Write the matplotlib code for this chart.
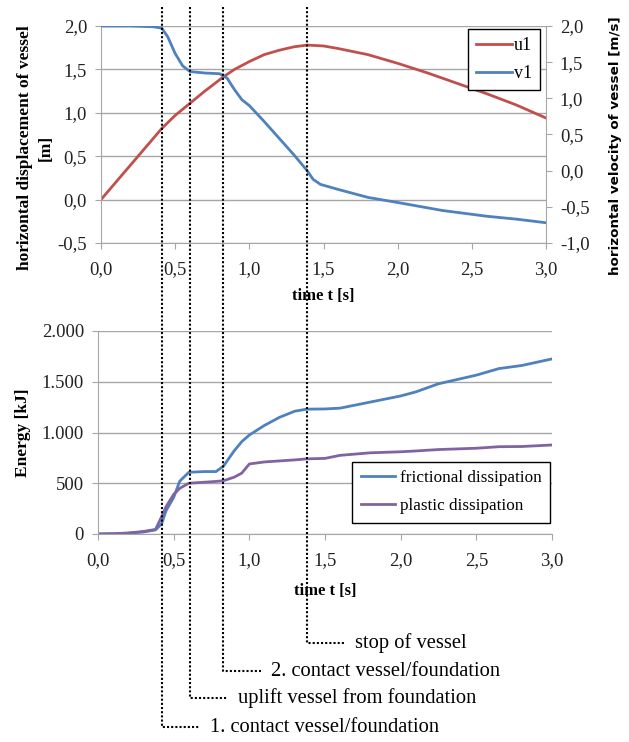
import matplotlib

matplotlib.use("Agg")
import matplotlib.pyplot as plt
from matplotlib.ticker import FuncFormatter, MultipleLocator

# --- data ------------------------------------------------------------------
t_u = [0.0, 0.1, 0.2, 0.3, 0.41, 0.5, 0.6, 0.7, 0.83, 0.9, 1.0, 1.1, 1.2, 1.3,
       1.39, 1.5, 1.6, 1.8, 2.0, 2.2, 2.4, 2.6, 2.8, 3.0]
u1 = [0.0, 0.2, 0.4, 0.6, 0.82, 0.97, 1.11, 1.25, 1.42, 1.50, 1.59, 1.67, 1.72,
      1.76, 1.78, 1.77, 1.74, 1.67, 1.57, 1.46, 1.34, 1.22, 1.09, 0.94]

t_v = [0.0, 0.2, 0.35, 0.41, 0.45, 0.5, 0.55, 0.6, 0.7, 0.8, 0.85, 0.9, 0.95,
       1.0, 1.1, 1.2, 1.3, 1.39, 1.43, 1.48, 1.6, 1.8, 2.0, 2.3, 2.6, 2.8, 3.0]
v1 = [2.0, 2.0, 1.99, 1.97, 1.85, 1.62, 1.45, 1.37, 1.35, 1.34, 1.28, 1.12,
      0.98, 0.90, 0.68, 0.45, 0.22, 0.0, -0.12, -0.19, -0.26, -0.37, -0.44,
      -0.55, -0.63, -0.67, -0.72]

t_e = [0.0, 0.1, 0.2, 0.3, 0.38, 0.42, 0.45, 0.5, 0.54, 0.6, 0.7, 0.78, 0.83,
       0.9, 0.95, 1.0, 1.1, 1.2, 1.3, 1.38, 1.5, 1.6, 1.8, 2.0, 2.1, 2.25, 2.5,
       2.65, 2.8, 3.0]
frictional = [0, 2, 8, 20, 40, 100, 230, 360, 520, 608, 615, 615, 670, 820,
              910, 975, 1070, 1150, 1210, 1230, 1232, 1240, 1300, 1360, 1400,
              1480, 1565, 1630, 1660, 1725]
plastic = [0, 3, 10, 25, 45, 170, 270, 390, 450, 500, 510, 518, 525, 560, 600,
           690, 710, 720, 730, 740, 745, 775, 800, 810, 818, 832, 845, 860,
           862, 877]

event_t = [0.413, 0.60, 0.825, 1.39]
event_labels = ["1. contact vessel/foundation", "uplift vessel from foundation",
                "2. contact vessel/foundation", "stop of vessel"]

RED = "#C0504D"
BLUE = "#4F81BD"
PURPLE = "#8064A2"
GRID = "#A6A6A6"
SERIF = "Liberation Serif"
TICK_FS = 13.5

plt.rcParams["font.family"] = SERIF
plt.rcParams["font.size"] = 12


def comma(fmt):
    return FuncFormatter(lambda v, p: fmt.format(v).replace(".", ","))


def style(ax, spines=("left", "bottom")):
    for s in ax.spines:
        ax.spines[s].set_visible(s in spines)
        ax.spines[s].set_color(GRID)
    ax.tick_params(direction="out", length=4, color=GRID, labelsize=TICK_FS,
                   pad=6, labelcolor="#222222")


fig = plt.figure(figsize=(6.29, 7.42), dpi=100)
W, H = 629, 742

# --- top panel --------------------------------------------------------------
ax1 = fig.add_axes([101 / W, 1 - 243 / H, 445 / W, 217 / H])
ax2 = ax1.twinx()
l1, = ax1.plot(t_u, u1, color=RED, lw=2, label="u1")
l2, = ax2.plot(t_v, v1, color=BLUE, lw=2, label="v1")
ax1.set_xlim(0, 3)
ax1.set_ylim(-0.5, 2.0)
ax2.set_ylim(-1.0, 2.0)
ax1.xaxis.set_major_locator(MultipleLocator(0.5))
ax1.yaxis.set_major_locator(MultipleLocator(0.5))
ax2.yaxis.set_major_locator(MultipleLocator(0.5))
ax1.xaxis.set_major_formatter(comma("{:.1f}"))
ax1.yaxis.set_major_formatter(comma("{:.1f}"))
ax2.yaxis.set_major_formatter(comma("{:.1f}"))
ax1.grid(axis="y", color=GRID, lw=1)
style(ax1)
style(ax2, spines=("right",))
ax1.tick_params(axis="x", pad=9)
ax1.set_axisbelow(True)
ax1.set_xlabel("time t [s]", fontweight="bold", fontsize=12, labelpad=7)
ax1.set_ylabel("horizontal displacement of vessel\n[m]", fontweight="bold",
               fontsize=12.5, linespacing=1.35, labelpad=3)
ax1.yaxis.label.set_y(0.44)
ax2.set_ylabel("horizontal velocity of vessel [m/s]", fontweight="bold",
               fontsize=9.7, family="DejaVu Sans", labelpad=14)
ax2.yaxis.label.set_y(0.45)
leg = ax2.legend([l1, l2], ["u1", "v1"], loc="upper right",
                 bbox_to_anchor=(0.987, 0.986), borderaxespad=0,
                 fancybox=False, edgecolor="black", framealpha=1,
                 handlelength=2.0, handletextpad=0.1, borderpad=0.45,
                 labelspacing=0.6, fontsize=13)
leg.get_frame().set_linewidth(1)

# --- bottom panel -----------------------------------------------------------
ax3 = fig.add_axes([98 / W, 1 - 534 / H, 454 / W, 203 / H])
ax3.plot(t_e, frictional, color=BLUE, lw=2, label="frictional dissipation")
ax3.plot(t_e, plastic, color=PURPLE, lw=2, label="plastic dissipation")
ax3.set_xlim(0, 3)
ax3.set_ylim(0, 2000)
ax3.xaxis.set_major_locator(MultipleLocator(0.5))
ax3.yaxis.set_major_locator(MultipleLocator(500))
ax3.xaxis.set_major_formatter(comma("{:.1f}"))
ax3.yaxis.set_major_formatter(FuncFormatter(lambda v, p: f"{v:,.0f}".replace(",", ".")))
ax3.grid(axis="y", color=GRID, lw=1)
ax3.set_axisbelow(True)
style(ax3)
ax3.tick_params(axis="x", pad=9)
ax3.set_xlabel("time t [s]", fontweight="bold", fontsize=12, labelpad=10)
ax3.set_ylabel("Energy [kJ]", fontweight="bold", fontsize=12.5, labelpad=8)
leg = ax3.legend(loc="upper right", bbox_to_anchor=(0.996, 0.355),
                 borderaxespad=0, fancybox=False, edgecolor="black",
                 framealpha=1, handlelength=2.0, handletextpad=0.3,
                 borderpad=0.5, labelspacing=0.7, fontsize=12.3)
leg.get_frame().set_linewidth(1)

# --- event markers spanning both panels ------------------------------------
ov = fig.add_axes([0, 0, 1, 1], zorder=10)
ov.set_xlim(0, W)
ov.set_ylim(H, 0)
ov.axis("off")
ov.patch.set_alpha(0)

fig.canvas.draw()
ends = [727, 698, 671, 643]
for t, lab, yb in zip(event_t, event_labels, ends):
    x = ax1.transData.transform((t, 0))[0]
    ov.plot([x, x, x + 38], [7, yb, yb], color="black", lw=1.5,
            ls=(0, (1, 1)))
    ov.text(x + 48, yb, lab, fontsize=14.8, va="center", ha="left")

fig.savefig("out.png", dpi=100)
